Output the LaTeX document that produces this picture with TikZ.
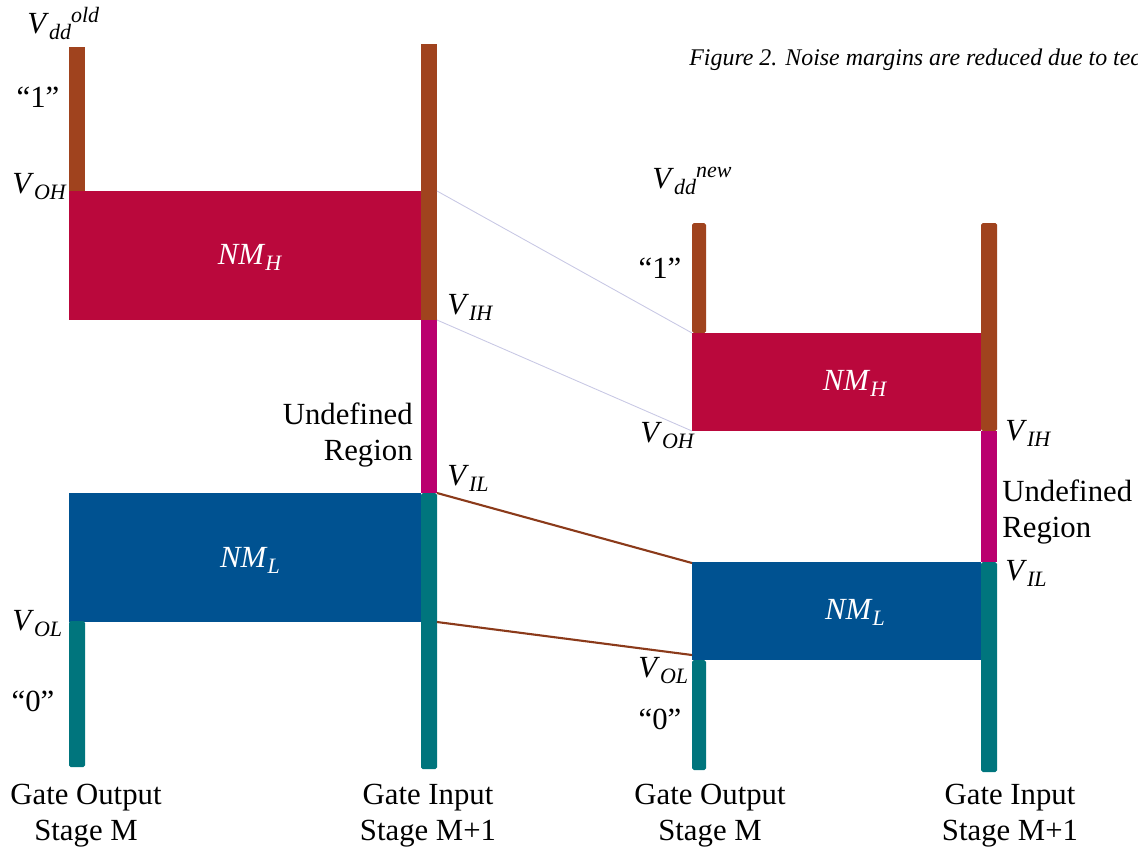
\documentclass[tikz,border=0pt]{standalone}
\usepackage{fontspec}
\setmainfont{Liberation Serif}
\definecolor{hibrown}{HTML}{A0431E}
\definecolor{nmhred}{HTML}{BA083C}
\definecolor{undefmag}{HTML}{BA006E}
\definecolor{loteal}{HTML}{00757D}
\definecolor{nmlblue}{HTML}{005291}
\definecolor{linklav}{HTML}{C8C8E4}
\definecolor{linkbrown}{HTML}{8B3A1A}
% voltage level label: italic letter with a lowered italic index
\newcommand\lvl[2]{\textit{#1}\raisebox{-0.45ex}{\fontsize{12.5}{12.5}\selectfont\textit{#2}}}
\begin{document}
\begin{tikzpicture}[x=0.02cm,y=-0.02cm,
  every node/.style={font=\fontsize{17.5}{20.4}\selectfont,inner sep=0pt},
  nmtext/.style={white,anchor=base},
  stagetext/.style={align=center,anchor=north},
  link/.style={linklav,line width=0.5pt},
  linkhot/.style={linkbrown,line width=1.2pt}]
\useasboundingbox (0,0) rectangle (1138,853);
% old supply: gate output stage M
\fill[hibrown] (69,47) rectangle (85,191);
\fill[nmhred] (69,191) rectangle (421,320);
\fill[nmlblue] (69,493) rectangle (421,622);
\fill[loteal,rounded corners=1pt] (69,621) rectangle (85,767);
% old supply: gate input stage M+1
\fill[hibrown] (421,44) rectangle (437,320);
\fill[undefmag] (421,320) rectangle (437,493);
\fill[loteal,rounded corners=1pt] (421,493) rectangle (437,769);
% new supply: gate output stage M
\fill[hibrown,rounded corners=1pt] (692,223) rectangle (706,333);
\fill[nmhred] (692,333) rectangle (981,431);
\fill[nmlblue] (692,562) rectangle (981,660);
\fill[loteal,rounded corners=1pt] (692,660) rectangle (706,770);
% new supply: gate input stage M+1
\fill[hibrown,rounded corners=1pt] (981,223) rectangle (997,431);
\fill[undefmag] (981,431) rectangle (997,562);
\fill[loteal,rounded corners=1pt] (981,562) rectangle (997,772);
% level points
\coordinate (ohOld) at (437,191);
\coordinate (ihOld) at (437,320);
\coordinate (ilOld) at (437,493);
\coordinate (olOld) at (437,622);
\coordinate (ohNew) at (692,333);
\coordinate (ihNew) at (692,431);
\coordinate (ilNew) at (692,563);
\coordinate (olNew) at (692,655);
\draw[link] (ohOld) -- (ohNew);
\draw[link] (ihOld) -- (ihNew);
\draw[linkhot] (ilOld) -- (ilNew);
\draw[linkhot] (olOld) -- (olNew);
% labels, old
\node[anchor=base west] (vddOld) at (27,33) {\textit{V}\raisebox{-0.45ex}{\fontsize{12.5}{12.5}\selectfont\textit{dd}}\raisebox{0.75ex}{\fontsize{12.5}{12.5}\selectfont\textit{old}}};
\node[anchor=base] (oneOld) at (38,107) {“1”};
\node[anchor=base west] (vohOld) at (12,193) {\lvl{V}{OH}};
\node[nmtext] (nmhOld) at (250,264) {\lvl{NM}{H}};
\node[anchor=base west] (vihOld) at (447,314) {\lvl{V}{IH}};
\node[anchor=east,align=right] (undefOld) at (413,435) {Undefined\\Region};
\node[anchor=base west] (vilOld) at (447,485) {\lvl{V}{IL}};
\node[nmtext] (nmlOld) at (250,567) {\lvl{NM}{L}};
\node[anchor=base west] (volOld) at (12,630) {\lvl{V}{OL}};
\node[anchor=base] (zeroOld) at (33,711) {“0”};
\node[stagetext] (outOld) at (86,784) {Gate Output\\Stage M};
\node[stagetext] (inOld) at (428,784) {Gate Input\\Stage M+1};
% labels, new
\node[anchor=base west] (vddNew) at (652,188) {\textit{V}\raisebox{-0.45ex}{\fontsize{12.5}{12.5}\selectfont\textit{dd}}\raisebox{0.75ex}{\fontsize{12.5}{12.5}\selectfont\textit{new}}};
\node[anchor=base] (oneNew) at (660,278) {“1”};
\node[anchor=base west] (vohNew) at (640,442) {\lvl{V}{OH}};
\node[nmtext] (nmhNew) at (855,390) {\lvl{NM}{H}};
\node[anchor=base west] (vihNew) at (1005,440) {\lvl{V}{IH}};
\node[anchor=west,align=left] (undefNew) at (1002,512) {Undefined\\Region};
\node[anchor=base west] (vilNew) at (1005,580) {\lvl{V}{IL}};
\node[nmtext] (nmlNew) at (855,619) {\lvl{NM}{L}};
\node[anchor=base west] (volNew) at (638,677) {\lvl{V}{OL}};
\node[anchor=base] (zeroNew) at (660,729) {“0”};
\node[stagetext] (outNew) at (710,784) {Gate Output\\Stage M};
\node[stagetext] (inNew) at (1010,784) {Gate Input\\Stage M+1};
% caption, as far as the picture shows it
\node[anchor=base west,font=\fontsize{13.6}{16}\selectfont\itshape] (cap) at (689,65) {Figure 2. Noise margins are reduced due to tec};
\end{tikzpicture}
\end{document}
